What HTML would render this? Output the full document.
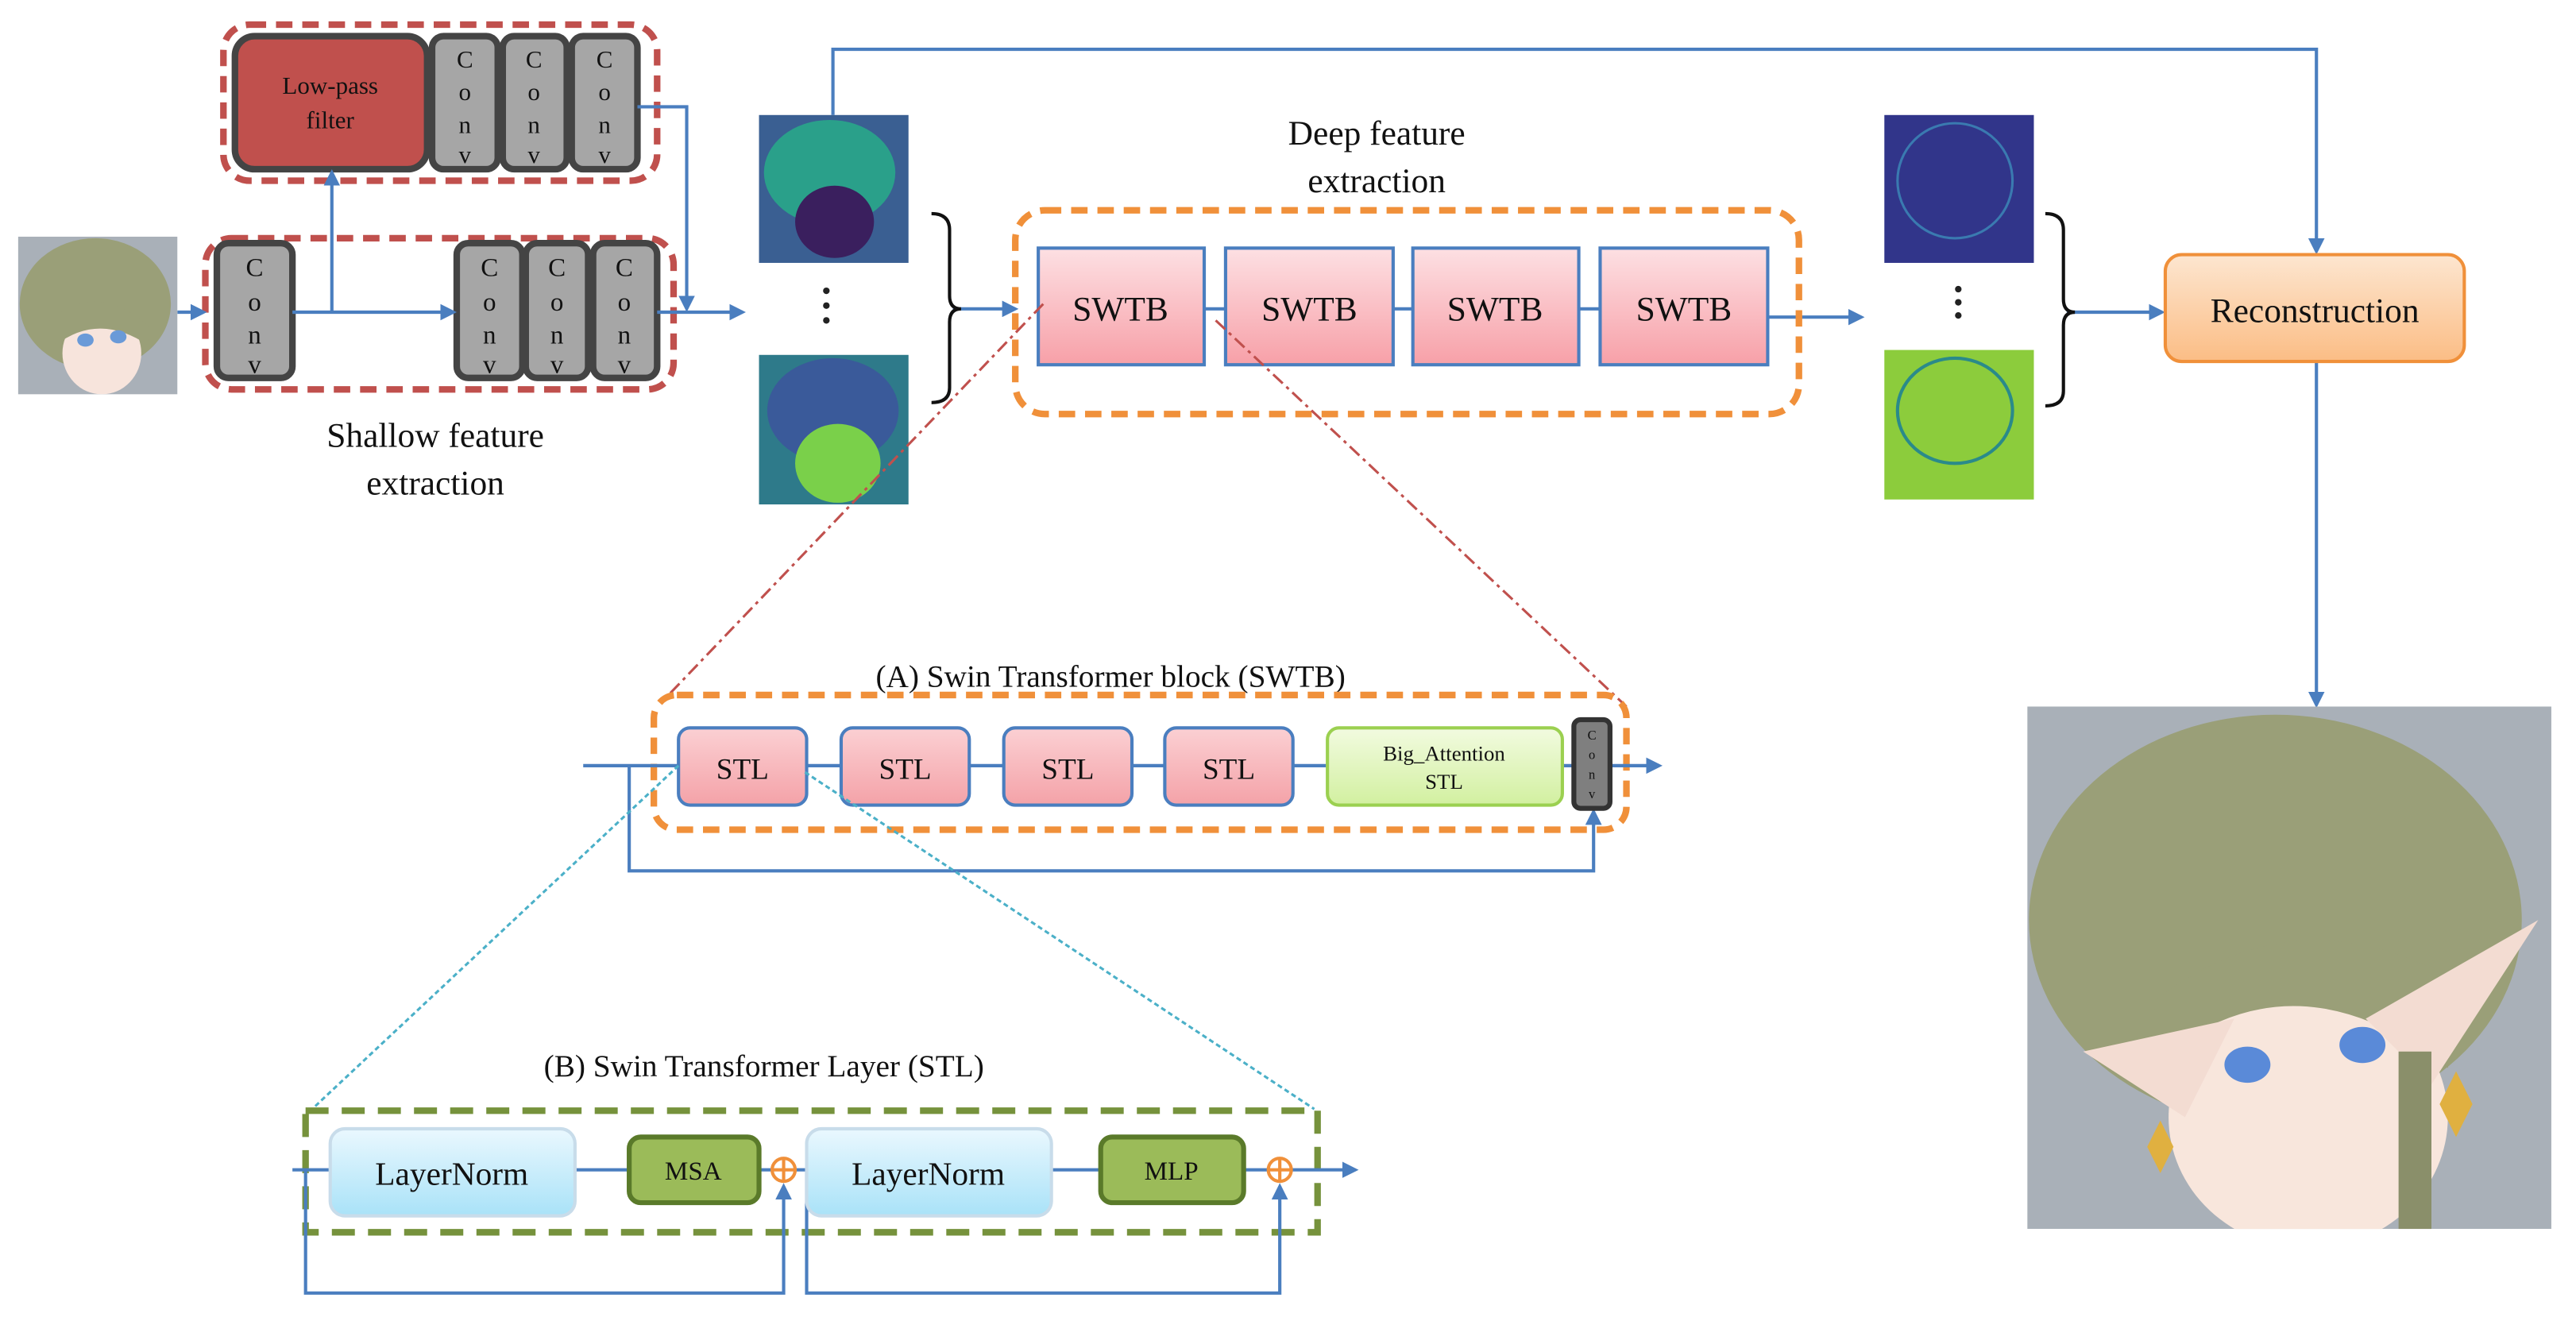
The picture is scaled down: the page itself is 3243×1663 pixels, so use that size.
<!DOCTYPE html>
<html><head><meta charset="utf-8">
<style>
html,body{margin:0;padding:0;background:#fff;}
svg{display:block;}
text{font-family:"Liberation Serif",serif;fill:#111;}
</style></head>
<body>
<svg width="3243" height="1663" viewBox="0 0 1568 804" preserveAspectRatio="none" xmlns="http://www.w3.org/2000/svg">
<defs>
<marker id="ar" markerWidth="10" markerHeight="10" refX="8" refY="5" orient="auto" markerUnits="userSpaceOnUse">
<path d="M0,0 L10,5 L0,10 z" fill="#4a7ebf"/></marker>
<linearGradient id="pink" x1="0" y1="0" x2="0" y2="1"><stop offset="0" stop-color="#fde0e3"/><stop offset="1" stop-color="#f7a0a8"/></linearGradient>
<linearGradient id="stl" x1="0" y1="0" x2="0" y2="1"><stop offset="0" stop-color="#fbd0d3"/><stop offset="1" stop-color="#f4a2a8"/></linearGradient>
<linearGradient id="grn" x1="0" y1="0" x2="0" y2="1"><stop offset="0" stop-color="#f2fbe0"/><stop offset="1" stop-color="#d2f0a0"/></linearGradient>
<linearGradient id="blu" x1="0" y1="0" x2="0" y2="1"><stop offset="0" stop-color="#eaf8fe"/><stop offset="1" stop-color="#a9e2f8"/></linearGradient>
<linearGradient id="org" x1="0" y1="0" x2="0" y2="1"><stop offset="0" stop-color="#fde6d0"/><stop offset="1" stop-color="#fbbd85"/></linearGradient>
<clipPath id="outc"><rect x="1234" y="430" width="319" height="318"/></clipPath>
<clipPath id="inc"><rect x="11" y="144" width="97" height="96"/></clipPath>
</defs>

<!-- input image -->
<g clip-path="url(#inc)">
<rect x="11" y="144" width="97" height="96" fill="#a9b0b8"/>
<ellipse cx="58" cy="185" rx="46" ry="40" fill="#9a9f78"/>
<ellipse cx="62" cy="215" rx="24" ry="25" fill="#f7e4dc"/>
<path d="M30,195 Q60,170 92,200 L90,210 Q60,190 34,210 z" fill="#9a9f78"/>
<ellipse cx="52" cy="207" rx="5" ry="4" fill="#6a9ad8"/><ellipse cx="72" cy="205" rx="5" ry="4" fill="#6a9ad8"/>
</g>

<!-- shallow top box -->
<rect x="136" y="15" width="264" height="95" rx="16" fill="none" stroke="#c0504d" stroke-width="4" stroke-dasharray="10,6"/>
<rect x="143" y="22" width="117" height="81" rx="12" fill="#c0504d" stroke="#444" stroke-width="4"/>
<text x="201" y="57" font-size="15" text-anchor="middle" fill="#333">Low-pass</text>
<text x="201" y="78" font-size="15" text-anchor="middle" fill="#333">filter</text>
<g font-size="15" text-anchor="middle">
<rect x="263" y="22" width="40" height="81" rx="7" fill="#a6a6a6" stroke="#444" stroke-width="4"/>
<rect x="306" y="22" width="39" height="81" rx="7" fill="#a6a6a6" stroke="#444" stroke-width="4"/>
<rect x="348" y="22" width="40" height="81" rx="7" fill="#a6a6a6" stroke="#444" stroke-width="4"/>
<text x="283" y="41">C</text><text x="283" y="61">o</text><text x="283" y="81">n</text><text x="283" y="99">v</text>
<text x="325" y="41">C</text><text x="325" y="61">o</text><text x="325" y="81">n</text><text x="325" y="99">v</text>
<text x="368" y="41">C</text><text x="368" y="61">o</text><text x="368" y="81">n</text><text x="368" y="99">v</text>
</g>

<!-- shallow bottom box -->
<rect x="125" y="145" width="285" height="92" rx="16" fill="none" stroke="#c0504d" stroke-width="4" stroke-dasharray="10,6"/>
<g font-size="16" text-anchor="middle">
<rect x="132" y="148" width="46" height="82" rx="7" fill="#a6a6a6" stroke="#444" stroke-width="4"/>
<rect x="278" y="148" width="40" height="82" rx="7" fill="#a6a6a6" stroke="#444" stroke-width="4"/>
<rect x="320" y="148" width="38" height="82" rx="7" fill="#a6a6a6" stroke="#444" stroke-width="4"/>
<rect x="361" y="148" width="39" height="82" rx="7" fill="#a6a6a6" stroke="#444" stroke-width="4"/>
<text x="155" y="168">C</text><text x="155" y="189">o</text><text x="155" y="209">n</text><text x="155" y="227">v</text>
<text x="298" y="168">C</text><text x="298" y="189">o</text><text x="298" y="209">n</text><text x="298" y="227">v</text>
<text x="339" y="168">C</text><text x="339" y="189">o</text><text x="339" y="209">n</text><text x="339" y="227">v</text>
<text x="380" y="168">C</text><text x="380" y="189">o</text><text x="380" y="209">n</text><text x="380" y="227">v</text>
</g>
<text x="265" y="272" font-size="21" text-anchor="middle">Shallow feature</text>
<text x="265" y="301" font-size="21" text-anchor="middle">extraction</text>

<g stroke="#4a7ebf" stroke-width="2" fill="none">
<line x1="108" y1="190" x2="124" y2="190" marker-end="url(#ar)"/>
<line x1="178" y1="190" x2="276" y2="190" marker-end="url(#ar)"/>
<line x1="202" y1="190" x2="202" y2="105" marker-end="url(#ar)"/>
<polyline points="388,65 418,65 418,188" marker-end="url(#ar)"/>
<line x1="400" y1="190" x2="452" y2="190" marker-end="url(#ar)"/>
<polyline points="507,70 507,30 1410,30 1410,153" marker-end="url(#ar)"/>
<line x1="580" y1="188" x2="618" y2="188" marker-end="url(#ar)"/>
<line x1="1076" y1="193" x2="1133" y2="193" marker-end="url(#ar)"/>
<line x1="1258" y1="190" x2="1316" y2="190" marker-end="url(#ar)"/>
<line x1="1410" y1="220" x2="1410" y2="429" marker-end="url(#ar)"/>
</g>

<!-- feature images -->
<rect x="462" y="70" width="91" height="90" fill="#3a5f92"/>
<ellipse cx="505" cy="105" rx="40" ry="32" fill="#2aa08a"/>
<ellipse cx="508" cy="135" rx="24" ry="22" fill="#3a1f5e"/>
<rect x="462" y="216" width="91" height="91" fill="#2e7a8a"/>
<ellipse cx="507" cy="250" rx="40" ry="32" fill="#3a5a9a"/>
<ellipse cx="510" cy="282" rx="26" ry="24" fill="#7ad04a"/>
<g fill="#222"><circle cx="503" cy="177" r="2"/><circle cx="503" cy="186" r="2"/><circle cx="503" cy="195" r="2"/>
<circle cx="1192" cy="176" r="2"/><circle cx="1192" cy="184" r="2"/><circle cx="1192" cy="192" r="2"/></g>
<path d="M567,130 Q578,130 578,140 L578,180 Q578,188 585,188 Q578,188 578,196 L578,236 Q578,245 567,245" fill="none" stroke="#111" stroke-width="2"/>
<rect x="1147" y="70" width="91" height="90" fill="#31358a"/>
<ellipse cx="1190" cy="110" rx="35" ry="35" fill="none" stroke="#3a7ab0" stroke-width="1.5"/>
<rect x="1147" y="213" width="91" height="91" fill="#8ccc3c"/>
<ellipse cx="1190" cy="250" rx="35" ry="32" fill="none" stroke="#2a8a8a" stroke-width="2"/>
<path d="M1245,130 Q1256,130 1256,140 L1256,182 Q1256,190 1263,190 Q1256,190 1256,198 L1256,238 Q1256,247 1245,247" fill="none" stroke="#111" stroke-width="2"/>

<!-- deep feature -->
<text x="838" y="88" font-size="21" text-anchor="middle">Deep feature</text>
<text x="838" y="117" font-size="21" text-anchor="middle">extraction</text>
<rect x="618" y="128" width="477" height="124" rx="18" fill="none" stroke="#f0903a" stroke-width="4" stroke-dasharray="10,6"/>
<line x1="733" y1="188" x2="974" y2="188" stroke="#4a7ebf" stroke-width="2"/>
<g stroke="#4a7ebf" stroke-width="2" fill="url(#pink)">
<rect x="632" y="151" width="101" height="71"/><rect x="746" y="151" width="102" height="71"/>
<rect x="860" y="151" width="101" height="71"/><rect x="974" y="151" width="102" height="71"/></g>
<g font-size="21" text-anchor="middle"><text x="682" y="195">SWTB</text><text x="797" y="195">SWTB</text><text x="910" y="195">SWTB</text><text x="1025" y="195">SWTB</text></g>

<rect x="1318" y="155" width="182" height="65" rx="10" fill="url(#org)" stroke="#f0903a" stroke-width="2"/>
<text x="1409" y="196" font-size="21" text-anchor="middle">Reconstruction</text>

<!-- output image -->
<g clip-path="url(#outc)">
<rect x="1234" y="430" width="319" height="318" fill="#a9b0b8"/>
<ellipse cx="1385" cy="560" rx="150" ry="125" fill="#9a9f78"/>
<ellipse cx="1405" cy="680" rx="85" ry="80" fill="#f8e6dc"/>
<path d="M1310,610 Q1400,540 1500,600 L1490,650 Q1400,580 1320,640 z" fill="#9a9f78"/>
<path d="M1268,640 L1360,620 L1330,680 z" fill="#f3dcd2"/>
<path d="M1440,620 L1545,560 L1480,660 z" fill="#f3dcd2"/>
<ellipse cx="1368" cy="648" rx="14" ry="11" fill="#5a8ad8"/><ellipse cx="1438" cy="636" rx="14" ry="11" fill="#5a8ad8"/>
<rect x="1460" y="640" width="20" height="108" fill="#8a8f6a"/>
<path d="M1495,652 L1505,672 L1495,692 L1485,672 z" fill="#e0b040"/>
<path d="M1315,682 L1323,698 L1315,714 L1307,698 z" fill="#e0b040"/>
</g>

<!-- red dash-dot -->
<g stroke="#c0504d" stroke-width="1.5" stroke-dasharray="8,3,2,3" fill="none">
<line x1="635" y1="185" x2="405" y2="425"/><line x1="740" y1="195" x2="990" y2="430"/></g>

<!-- (A) -->
<text x="676" y="418" font-size="19" text-anchor="middle">(A) Swin Transformer block (SWTB)</text>
<rect x="398" y="423" width="592" height="82" rx="14" fill="none" stroke="#f0903a" stroke-width="4" stroke-dasharray="10,6"/>
<g stroke="#4a7ebf" stroke-width="2" fill="none">
<line x1="355" y1="466" x2="1010" y2="466" marker-end="url(#ar)"/>
<polyline points="383,466 383,530 970,530 970,494" marker-end="url(#ar)"/></g>
<g stroke="#4a7ebf" stroke-width="2" fill="url(#stl)">
<rect x="413" y="443" width="78" height="47" rx="7"/><rect x="512" y="443" width="78" height="47" rx="7"/>
<rect x="611" y="443" width="78" height="47" rx="7"/><rect x="709" y="443" width="78" height="47" rx="7"/></g>
<rect x="808" y="443" width="143" height="47" rx="7" fill="url(#grn)" stroke="#9bd050" stroke-width="2"/>
<rect x="958" y="438" width="22" height="54" rx="4" fill="#7f7f7f" stroke="#333" stroke-width="3"/>
<g font-size="18" text-anchor="middle"><text x="452" y="474">STL</text><text x="551" y="474">STL</text><text x="650" y="474">STL</text><text x="748" y="474">STL</text></g>
<text x="879" y="463" font-size="13" text-anchor="middle">Big_Attention</text>
<text x="879" y="480" font-size="13" text-anchor="middle">STL</text>
<g font-size="8" text-anchor="middle"><text x="969" y="450">C</text><text x="969" y="462">o</text><text x="969" y="474">n</text><text x="969" y="486">v</text></g>

<!-- cyan dotted -->
<g stroke="#4bb0c8" stroke-width="1.5" stroke-dasharray="3,2" fill="none">
<line x1="413" y1="466" x2="190" y2="675"/><line x1="490" y1="470" x2="800" y2="675"/></g>

<!-- (B) -->
<text x="465" y="655" font-size="19" text-anchor="middle">(B) Swin Transformer Layer (STL)</text>
<rect x="186" y="676" width="616" height="74" fill="none" stroke="#76923c" stroke-width="4" stroke-dasharray="14,8"/>
<g stroke="#4a7ebf" stroke-width="2" fill="none">
<line x1="178" y1="712" x2="825" y2="712" marker-end="url(#ar)"/>
<polyline points="186,712 186,787 477,787 477,722" marker-end="url(#ar)"/>
<polyline points="491,712 491,787 779,787 779,722" marker-end="url(#ar)"/></g>
<rect x="201" y="687" width="149" height="53" rx="9" fill="url(#blu)" stroke="#c8dcea" stroke-width="2"/>
<rect x="491" y="687" width="149" height="53" rx="9" fill="url(#blu)" stroke="#c8dcea" stroke-width="2"/>
<rect x="383" y="692" width="79" height="40" rx="7" fill="#9bbb59" stroke="#5a7a2a" stroke-width="3"/>
<rect x="670" y="692" width="87" height="40" rx="7" fill="#9bbb59" stroke="#5a7a2a" stroke-width="3"/>
<g font-size="20" text-anchor="middle"><text x="275" y="721">LayerNorm</text><text x="565" y="721">LayerNorm</text></g>
<g font-size="16" text-anchor="middle"><text x="422" y="718">MSA</text><text x="713" y="718">MLP</text></g>
<g stroke="#f0903a" stroke-width="2" fill="#fff">
<circle cx="477" cy="712" r="7"/><circle cx="779" cy="712" r="7"/></g>
<g stroke="#f0903a" stroke-width="2">
<line x1="470" y1="712" x2="484" y2="712"/><line x1="477" y1="705" x2="477" y2="719"/>
<line x1="772" y1="712" x2="786" y2="712"/><line x1="779" y1="705" x2="779" y2="719"/></g>
</svg>
</body></html>
